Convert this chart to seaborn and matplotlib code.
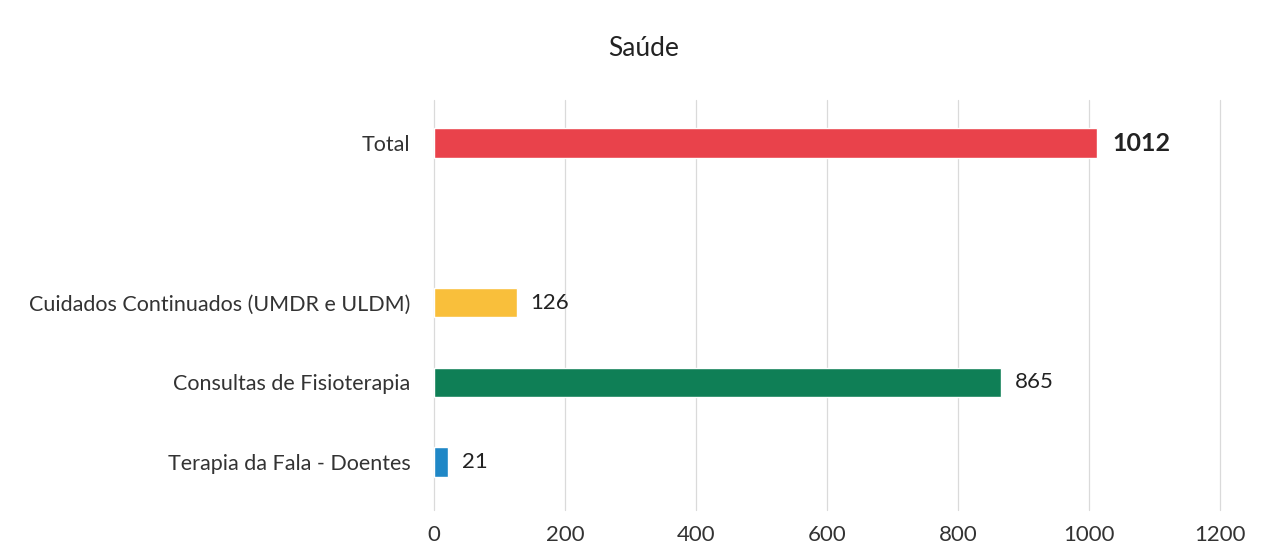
import matplotlib
matplotlib.use("Agg")
import matplotlib.pyplot as plt
import seaborn as sns
import pandas as pd

categories = ["Total", "Cuidados Continuados (UMDR e ULDM)", "Consultas de Fisioterapia", "Terapia da Fala - Doentes"]
values = [1012, 126, 865, 21]
colors = ["#E9424B", "#F9BF3B", "#0F7F56", "#1F87C6"]
order = ["Total", " ", "Cuidados Continuados (UMDR e ULDM)", "Consultas de Fisioterapia", "Terapia da Fala - Doentes"]
xticks = [0, 200, 400, 600, 800, 1000, 1200]

sns.set_theme(style="white")
plt.rcParams["font.family"] = ["Lato", "DejaVu Sans"]

df = pd.DataFrame({"cat": categories, "val": values})

fig = plt.figure(figsize=(12.64, 5.57), dpi=100)
ax = fig.add_axes([0.3434, 0.0844, 0.6218, 0.7361])

sns.barplot(data=df, y="cat", x="val", hue="cat", order=order, hue_order=categories,
            palette=dict(zip(categories, colors)), width=0.37, legend=False, ax=ax,
            orient="h", saturation=1)

for c in ax.containers:
    labels = [f"{int(v)}" for v in c.datavalues]
    bold = c.datavalues[0] == 1012 if len(c.datavalues) else False
    ax.bar_label(c, labels=labels, padding=11 if bold else 10, fontsize=18 if bold else 16,
                 fontweight="bold" if bold else "normal", color="#222222")

ax.set_xlim(0, 1200)
ax.set_ylim(4.6, -0.54)
ax.set_xticks(xticks)
ax.set_xticklabels([str(t) for t in xticks])
ax.set_xlabel("")
ax.set_ylabel("")
ax.xaxis.grid(True, color="#DADADA", linewidth=0.9)
for gl in ax.get_xgridlines():
    gl.set_clip_on(False)
ax.yaxis.grid(False)
ax.set_axisbelow(True)
for s in ax.spines.values():
    s.set_visible(False)
ax.tick_params(axis="y", length=0, pad=17, labelsize=15.5, labelcolor="#333333")
ax.tick_params(axis="x", length=0, pad=11, labelsize=16, labelcolor="#333333")

fig.suptitle("Saúde", x=0.509, y=0.935, fontsize=19, color="#222222")

fig.savefig("out.png", dpi=100, facecolor="white")
